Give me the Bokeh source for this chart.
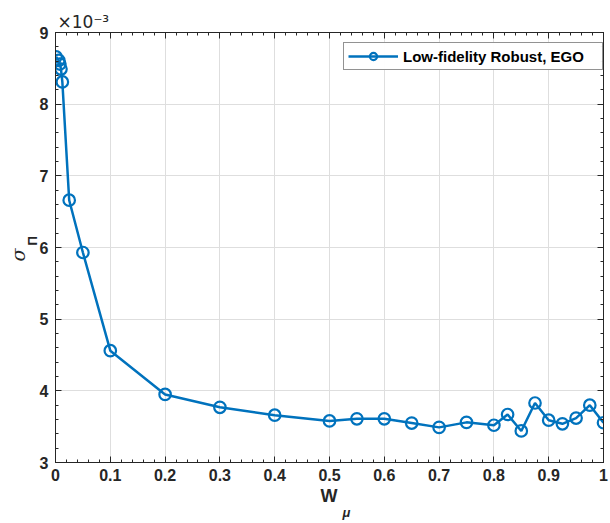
import numpy as np
from bokeh.plotting import figure
from bokeh.models import (Range1d, SingleIntervalTicker, LinearAxis, Legend, LegendItem,
                          CustomJSTickFormatter, ColumnDataSource, Title)
from bokeh.embed import file_html
from bokeh.resources import INLINE

# data (sigma values in units of 1e-3)
w_mu = [0.001, 0.006, 0.008, 0.01, 0.0125, 0.025, 0.05, 0.1, 0.2, 0.3, 0.4, 0.5, 0.55, 0.6,
        0.65, 0.7, 0.75, 0.8, 0.825, 0.85, 0.875, 0.9, 0.925, 0.95, 0.975, 1.0]
sigma_pi = [8.66, 8.61, 8.56, 8.49, 8.31, 6.66, 5.93, 4.56, 3.95, 3.77, 3.66, 3.58, 3.61, 3.61,
            3.55, 3.49, 3.56, 3.52, 3.67, 3.44, 3.83, 3.59, 3.54, 3.62, 3.80, 3.555]
series_name = "Low-fidelity Robust, EGO"

BLUE = "#0072BD"
TXT = "#262626"
FONT = "Liberation Sans"

p = figure(width=610, height=523, output_backend="svg", toolbar_location=None,
           x_range=Range1d(0, 1), y_range=Range1d(3, 9),
           min_border_left=55, min_border_right=7, min_border_top=32, min_border_bottom=61)
p.background_fill_color = "white"
p.border_fill_color = "white"
p.outline_line_color = TXT
p.outline_line_width = 1

xt = SingleIntervalTicker(interval=0.1, num_minor_ticks=5)
yt = SingleIntervalTicker(interval=1, num_minor_ticks=5)
p.xaxis.ticker = xt
p.yaxis.ticker = yt
p.xaxis.formatter = CustomJSTickFormatter(code="return tick.toFixed(1).replace(/\\.0$/, '');")

def style_axis(ax, labels=True):
    ax.major_tick_in = 6
    ax.major_tick_out = 0
    ax.minor_tick_in = 3
    ax.minor_tick_out = 0
    ax.axis_line_color = TXT
    ax.major_tick_line_color = TXT
    ax.minor_tick_line_color = TXT
    ax.major_label_text_font = FONT
    ax.major_label_text_font_style = "bold"
    ax.major_label_text_font_size = "16px" if labels else "0px"
    ax.major_label_text_color = TXT if labels else None
    ax.major_label_standoff = 7 if labels else 0

for ax in p.xaxis + p.yaxis:
    style_axis(ax)
p.xaxis.major_label_standoff = 6

top = LinearAxis(ticker=SingleIntervalTicker(interval=0.1, num_minor_ticks=5))
right = LinearAxis(ticker=SingleIntervalTicker(interval=1, num_minor_ticks=5))
style_axis(top, labels=False)
style_axis(right, labels=False)
p.add_layout(top, "above")
p.add_layout(right, "right")

p.xgrid.grid_line_color = "#dedede"
p.ygrid.grid_line_color = "#dedede"
p.xgrid.ticker = xt
p.ygrid.ticker = yt

src = ColumnDataSource(dict(x=w_mu, y=sigma_pi))
ln = p.line("x", "y", source=src, line_color=BLUE, line_width=2.5)
sc = p.scatter("x", "y", source=src, marker="circle", size=11.5, line_color=BLUE,
               line_width=2.2, fill_color=None)

legend = Legend(items=[LegendItem(label=series_name, renderers=[ln, sc])],
                location=(288, 392))
legend.label_text_font = FONT
legend.label_text_font_style = "bold"
legend.label_text_font_size = "15px"
legend.label_text_color = "black"
legend.label_height = 18
legend.label_width = 195
legend.border_line_color = TXT
legend.border_line_width = 1
legend.glyph_width = 50
legend.glyph_height = 18
legend.label_standoff = 5
legend.padding = 4
legend.margin = 0
legend.spacing = 0
p.add_layout(legend, "center")

def ttl(text, size, offset, style="normal", font=FONT, standoff=0):
    return Title(text=text, align="left", offset=offset, standoff=standoff,
                 text_font=font, text_font_size=size, text_font_style=style,
                 text_color=TXT, text_line_height=1.0)

# exponent marker above the frame
p.add_layout(ttl("×10⁻³", "17px", 2, font="DejaVu Sans", standoff=2), "above")

# x axis label W_mu
p.add_layout(ttl("W", "18px", 265, "bold", standoff=0), "below")
p.add_layout(ttl("μ", "13px", 287, "bold italic", standoff=-5), "below")

# y axis label sigma_Pi
p.add_layout(ttl("Π", "13px", 217, "bold", standoff=-6), "left")
p.add_layout(ttl("σ", "19px", 201, "italic", font="DejaVu Serif", standoff=-6), "left")

open("out.html", "w").write(file_html(p, INLINE))
